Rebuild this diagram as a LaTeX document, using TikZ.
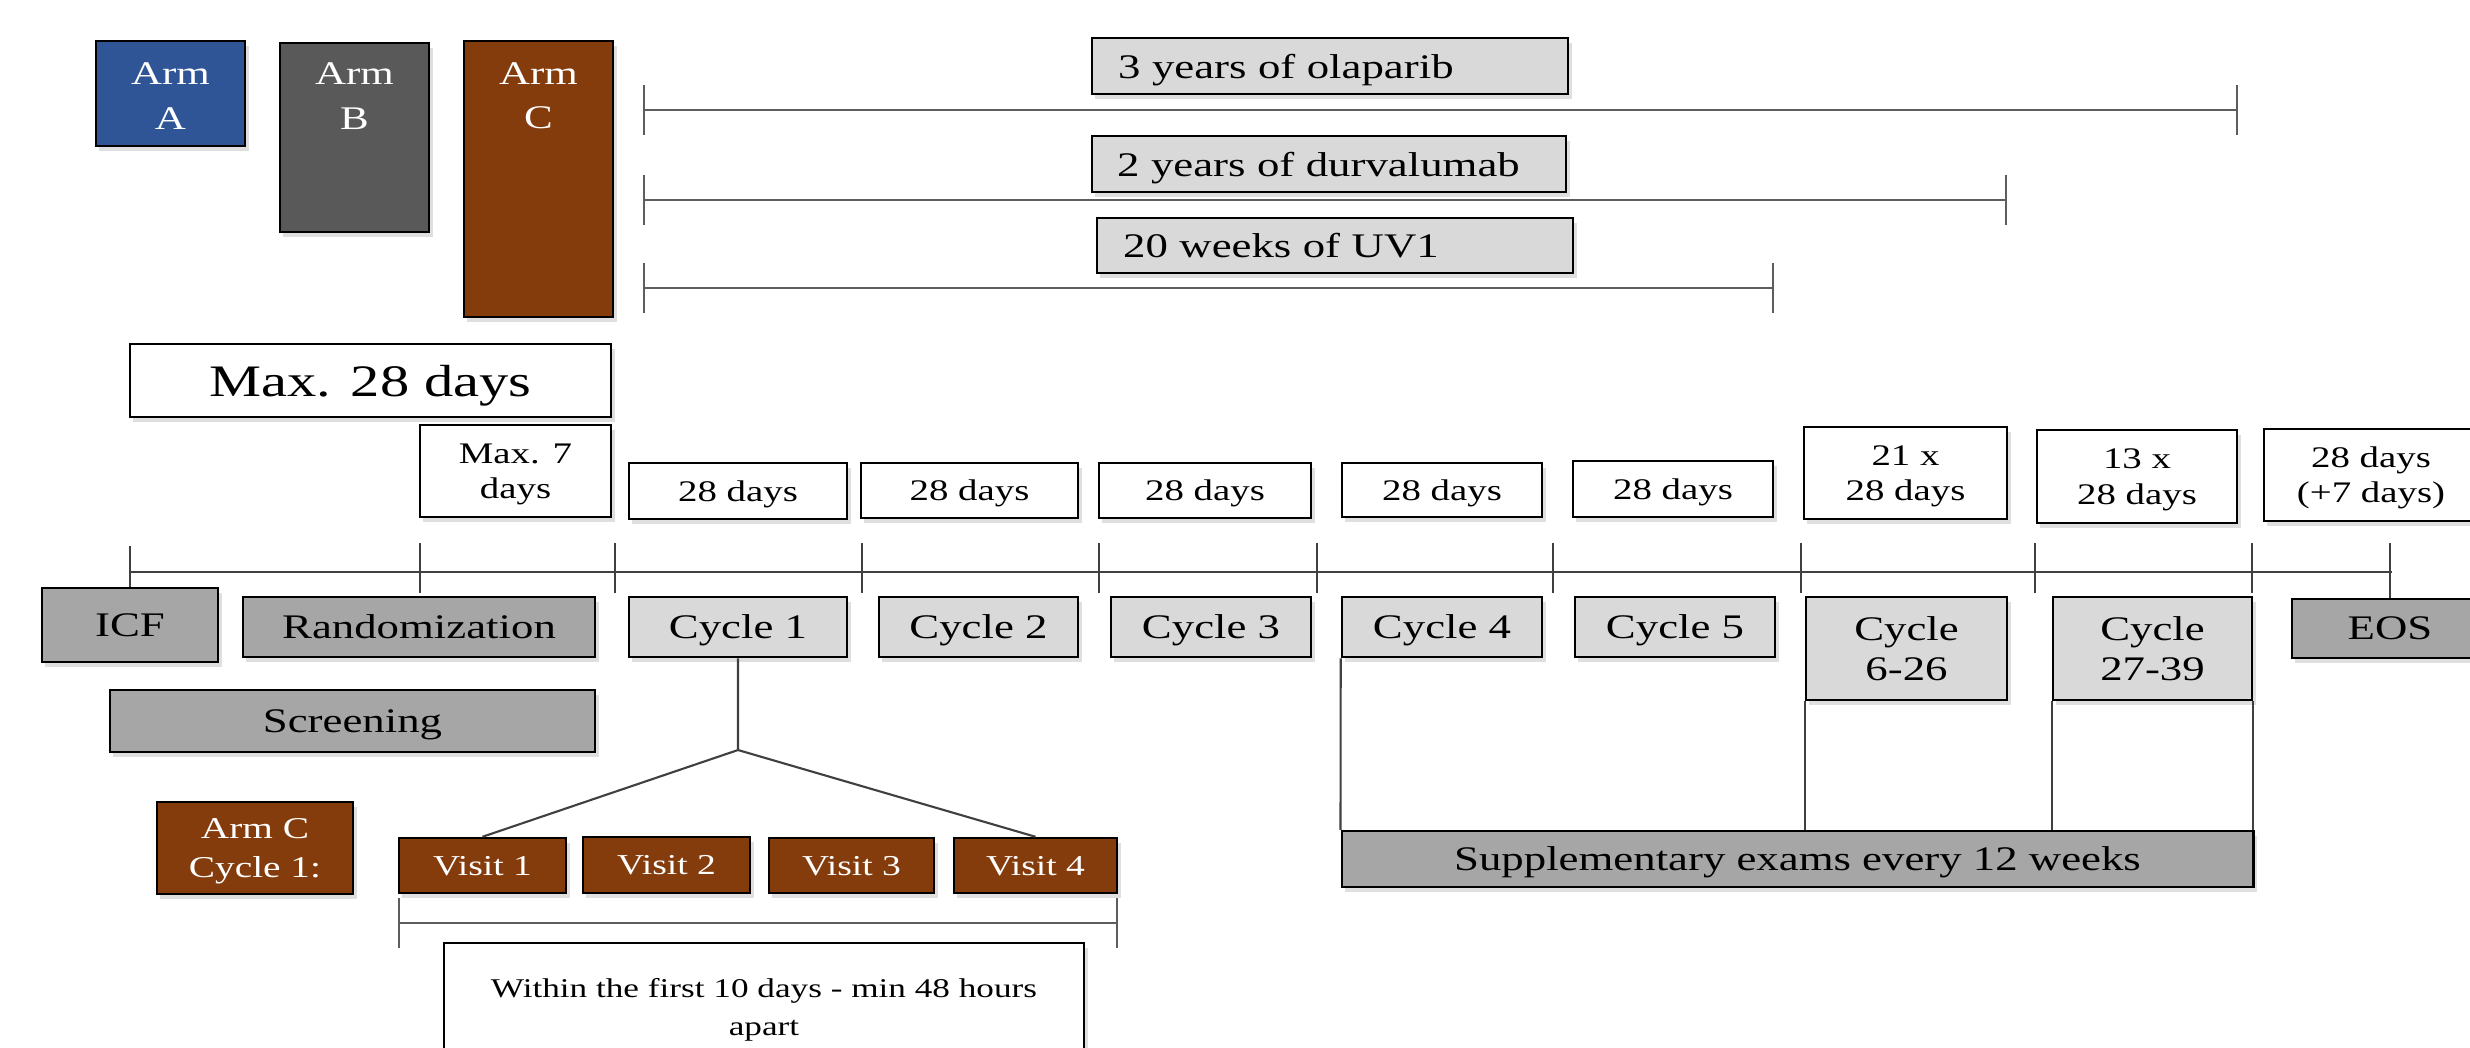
\documentclass[tikz,border=0pt]{standalone}
\usepackage{fontspec}
\setmainfont{Liberation Serif}[FakeStretch=1.3]
\usetikzlibrary{shadows}
\definecolor{armA}{HTML}{2F5597}
\definecolor{armB}{HTML}{595959}
\definecolor{armC}{HTML}{843C0C}
\definecolor{lgray}{HTML}{D9D9D9}
\definecolor{mgray}{HTML}{A6A6A6}
\definecolor{lineg}{HTML}{404040}
\newcommand\fsz[2]{\fontsize{#1pt}{#2pt}\selectfont}
\newcommand\mkbox[7]{%
  \pgfmathsetmacro\mbw{(#5-#3)*0.284528}%
  \pgfmathsetmacro\mbh{(#6-#4)*0.284528}%
  \node[#2, minimum width=\mbw pt, minimum height=\mbh pt] (#1) at ({(#3+#5)/2},{(#4+#6)/2}) {#7};}
\tikzset{
  bx/.style={draw=black, line width=0.7pt, inner sep=0pt, align=center, text depth=0pt,
    drop shadow={shadow xshift=1pt, shadow yshift=-1.5pt, opacity=0.25}},
  armbox/.style={bx},
  armtxt/.style={text=white, align=center, inner sep=0pt, font=\fsz{9.4}{12.6}},
  lbox/.style={bx, fill=lgray, font=\fsz{9.8}{11.4}},
  mbox/.style={bx, fill=mgray, font=\fsz{9.8}{11.4}},
  trt/.style={bx, fill=lgray, font=\fsz{9.8}{11.4}, align=left, text width=120.5pt, inner xsep=7.1pt},
  dur/.style={bx, fill=white, font=\fsz{8.5}{10}},
  visit/.style={bx, fill=armC, text=white, font=\fsz{8.2}{10}},
  conn/.style={draw=lineg, line width=0.6pt},
  brk/.style={draw=lineg!85, line width=0.7pt},
}
\begin{document}
\begin{tikzpicture}[x=0.01cm, y=-0.01cm]
\useasboundingbox (0,0) rectangle (2470,1047);
% arms
\mkbox{armA}{armbox, fill=armA}{96}{41}{245}{146}{}
\mkbox{armB}{armbox, fill=armB}{280}{43}{429}{232}{}
\mkbox{armC}{armbox, fill=armC}{464}{41}{613}{317}{}
\node[armtxt] (armAt) at (170.5,96) {Arm\\A};
\node[armtxt] (armBt) at (354.5,96) {Arm\\B};
\node[armtxt] (armCt) at (538.5,96) {Arm\\C};
% treatments
\mkbox{olap}{trt}{1092}{38}{1568}{94}{3 years of olaparib}
\mkbox{durv}{trt}{1092}{136}{1566}{192}{2 years of durvalumab}
\mkbox{uvone}{trt}{1097}{218}{1573}{273}{20 weeks of UV1}
\coordinate (olL) at (644,110); \coordinate (olR) at (2237,110);
\coordinate (duL) at (644,200); \coordinate (duR) at (2006,200);
\coordinate (uvL) at (644,288); \coordinate (uvR) at (1773,288);
\foreach \a/\b in {olL/olR,duL/duR,uvL/uvR}{
  \draw[brk] (\a) -- (\b);
  \draw[brk] ([yshift=0.25cm]\a) -- ([yshift=-0.25cm]\a);
  \draw[brk] ([yshift=0.25cm]\b) -- ([yshift=-0.25cm]\b);
}
% max 28 days
\mkbox{max28}{bx, fill=white, font=\fsz{12.8}{15}}{130}{344}{611}{417}{Max. 28 days}
% durations
\mkbox{dmax7}{dur}{420}{425}{611}{517}{Max. 7\\days}
\mkbox{dA}{dur}{629}{463}{847}{519}{28 days}
\mkbox{dB}{dur}{861}{463}{1078}{518}{28 days}
\mkbox{dC}{dur}{1099}{463}{1311}{518}{28 days}
\mkbox{dD}{dur}{1342}{463}{1542}{517}{28 days}
\mkbox{dE}{dur}{1573}{461}{1773}{517}{28 days}
\mkbox{dF}{dur}{1804}{427}{2007}{519}{21 x\\28 days}
\mkbox{dG}{dur}{2037}{430}{2237}{523}{13 x\\28 days}
\mkbox{dH}{dur}{2264}{429}{2478}{521}{28 days\\(+7 days)}
% row boxes
\mkbox{icf}{mbox}{42}{588}{218}{662}{ICF}
\mkbox{rand}{mbox}{243}{597}{595}{657}{Randomization}
\mkbox{scr}{mbox}{110}{690}{595}{752}{Screening}
\mkbox{cA}{lbox}{629}{597}{847}{657}{Cycle 1}
\mkbox{cB}{lbox}{879}{597}{1078}{657}{Cycle 2}
\mkbox{cC}{lbox}{1111}{597}{1311}{657}{Cycle 3}
\mkbox{cD}{lbox}{1342}{597}{1542}{657}{Cycle 4}
\mkbox{cE}{lbox}{1575}{597}{1775}{657}{Cycle 5}
\mkbox{cF}{lbox}{1806}{597}{2007}{700}{Cycle\\6-26}
\mkbox{cG}{lbox}{2053}{597}{2252}{700}{Cycle\\27-39}
\mkbox{eos}{mbox}{2292}{599}{2488}{658}{EOS}
\mkbox{supp}{mbox}{1342}{831}{2253}{887}{Supplementary exams every 12 weeks}
% timeline
\coordinate (tlS) at (130,572); \coordinate (tlE) at (2392,572);
\draw[conn] (tlS) -- (tlE);
\draw[conn] (130,546) -- (icf.north);
\draw[conn] (2390,543) -- (eos.north);
\foreach \x in {420,615,862,1099,1317,1553,1801,2035,2252}{
  \draw[conn] (\x,543) -- (\x,593);
}
% arm C cycle 1 visits
\mkbox{armCc}{bx, fill=armC, text=white, font=\fsz{8.6}{11.1}}{157}{802}{353}{894}{Arm C\\Cycle 1:}
\mkbox{vA}{visit}{399}{838}{566}{893}{Visit 1}
\mkbox{vB}{visit}{583}{837}{750}{893}{Visit 2}
\mkbox{vC}{visit}{769}{838}{934}{893}{Visit 3}
\mkbox{vD}{visit}{954}{838}{1117}{893}{Visit 4}
\coordinate (apex) at (738,750);
\draw[conn] (cA.south) -- (apex) -- (vA.north);
\draw[conn] (apex) -- (vD.north);
\coordinate (vbL) at (399,923); \coordinate (vbR) at (1117,923);
\draw[brk] (vbL) -- (vbR);
\draw[brk] ([yshift=0.25cm]vbL) -- ([yshift=-0.25cm]vbL);
\draw[brk] ([yshift=0.25cm]vbR) -- ([yshift=-0.25cm]vbR);
\mkbox{within}{bx, fill=white, font=\fsz{7.7}{10.8}}{444}{943}{1084}{1071}{Within the first 10 days - min 48 hours\\apart}
% supplementary connectors
\draw[conn] (cD.south west) -- (supp.north west);
\draw[conn] (cF.south west) -- (cF.south west |- supp.north);
\draw[conn] (cG.south west) -- (cG.south west |- supp.north);
\draw[conn] (cG.south east) -- (cG.south east |- supp.north);
\end{tikzpicture}
\end{document}
